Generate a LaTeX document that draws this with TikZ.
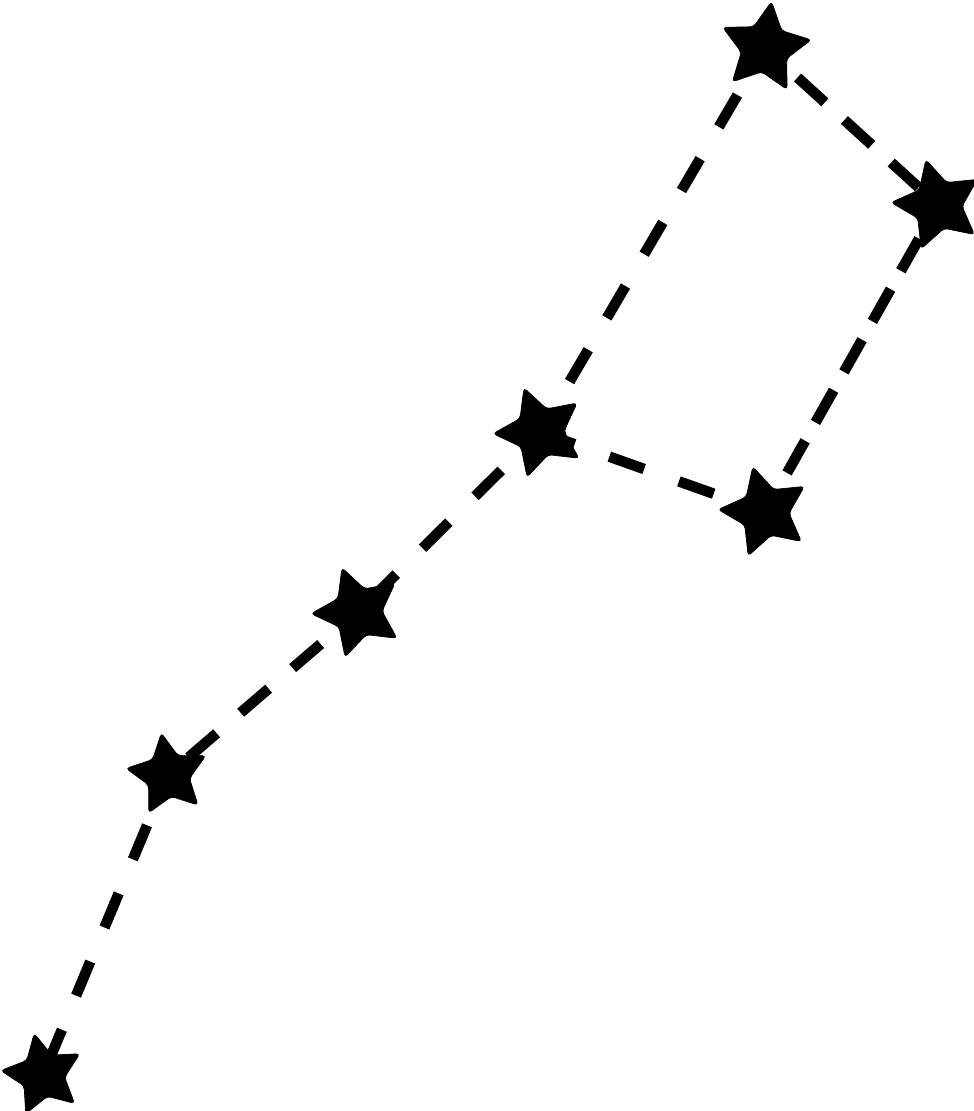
\documentclass[tikz,border=0pt]{standalone}
\usetikzlibrary{shapes.geometric,backgrounds}
\begin{document}
\begin{tikzpicture}[
        estrella/.style={star, star points=5, star point ratio=1.95, fill=black, draw=black,
            rounded corners=2pt, minimum size=1.88cm, inner sep=0pt},
        enlace/.style={line width=6pt, dash pattern=on 21pt off 21pt, dash phase=11pt}
    ]
    \useasboundingbox (0,0) rectangle (19.48,-22.22);
    % estrellas de la Osa Mayor
    \node[estrella, shape border rotate=-8] (dubhe) at (15.30,-0.96) {};
    \node[estrella, shape border rotate=15] (merak) at (18.76,-4.10) {};
    \node[estrella, shape border rotate=20] (megrez) at (10.80,-8.64) {};
    \node[estrella, shape border rotate=15] (phecda) at (15.30,-10.24) {};
    \node[estrella, shape border rotate=20] (alioth) at (7.16,-12.24) {};
    \node[estrella, shape border rotate=9, minimum size=1.7cm] (mizar) at (3.36,-15.50) {};
    \node[estrella, shape border rotate=12, minimum size=1.7cm] (alkaid) at (0.86,-21.50) {};

    \begin{scope}[on background layer]
    \draw [enlace, dash pattern=on 21pt off 15pt] (dubhe.center) -- (merak.center);
    \draw [enlace, dash pattern=on 21pt off 12pt] (merak.center) -- (phecda.center);
    \draw [enlace] (phecda.center) -- (megrez.center);
    \draw [enlace] (dubhe.center) -- (megrez.center);
    \draw [enlace] (megrez.center) -- (alioth.center);
    \draw [enlace, dash pattern=on 21pt off 18pt] (alioth.center) -- (mizar.center);
    \draw [enlace] (mizar.center) -- (alkaid.center);
    \end{scope}
\end{tikzpicture}
\end{document}
